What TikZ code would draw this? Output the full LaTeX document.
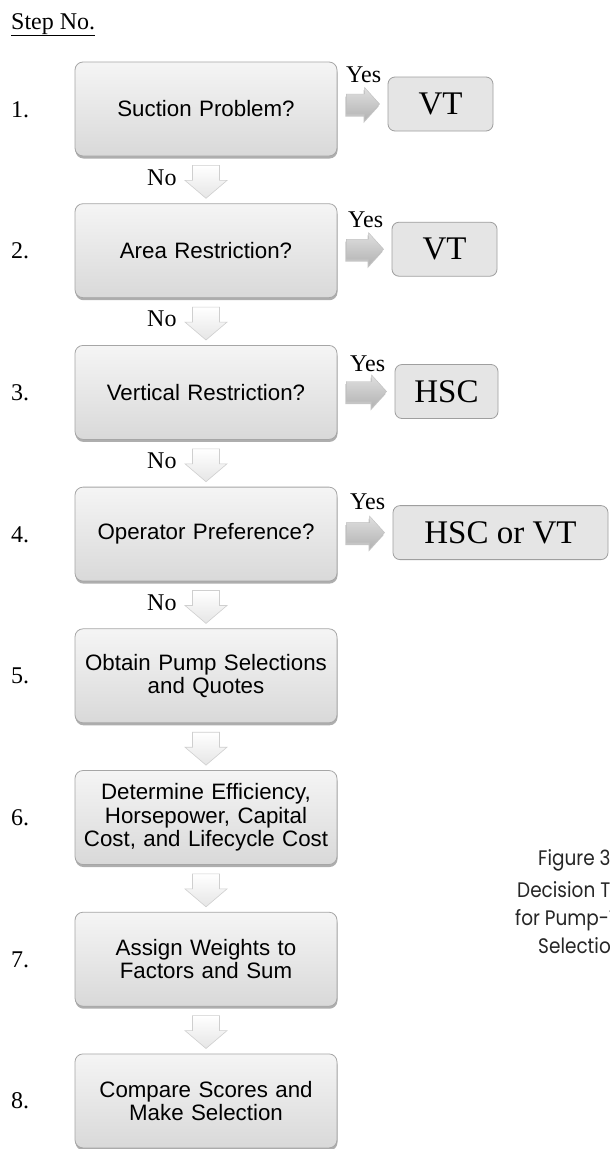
\documentclass[tikz,border=0pt]{standalone}
\usepackage{fontspec}
\setmainfont{Liberation Serif}
\newfontfamily\arialf{Liberation Sans}
\newfontfamily\capfont[FakeStretch=0.88]{Poppins}
\usetikzlibrary{shadows,calc}
\newcommand\dnarr[2]{\path[dnarrow] let \p1=(#1.south), \p2=(#2.north) in
  (\x1-13.5pt,\y1-9pt) -- (\x1+13.5pt,\y1-9pt) -- (\x1+13.5pt,\y1-24pt) -- (\x1+21pt,\y1-24pt)
  -- (\x1,\y2+5pt) -- (\x1-21pt,\y1-24pt) -- (\x1-13.5pt,\y1-24pt) -- cycle;}
\newcommand\rtarr[2]{\path[rtarrow] let \p1=(#1.east), \p2=(#2.west) in
  (\x1+9pt,\y2+10pt) -- (\x2-23pt,\y2+10pt) -- (\x2-23pt,\y2+16.5pt) -- (\x2-8pt,\y2)
  -- (\x2-23pt,\y2-16.5pt) -- (\x2-23pt,\y2-10pt) -- (\x1+9pt,\y2-10pt) -- cycle;}
\begin{document}
\begin{tikzpicture}[x=1pt,y=-1pt,
 mainbox/.style={draw=gray!70, line width=0.8pt, rounded corners=8pt, top color=gray!8, bottom color=gray!30,
   minimum width=262pt, minimum height=94pt, text width=250pt, align=center, inner sep=0pt,
   font=\arialf\fontsize{22.3}{23.5}\selectfont,
   drop shadow={shadow xshift=0.5pt, shadow yshift=-2.5pt, opacity=0.45, fill=black!70}},
 resbox/.style={draw=gray!75, line width=0.8pt, rounded corners=7pt, fill=gray!20, minimum height=54pt,
   inner sep=0pt, font=\fontsize{33}{36}\selectfont},
 stepnum/.style={anchor=base west, inner sep=0pt, font=\fontsize{24}{26}\selectfont},
 lbl/.style={anchor=base west, inner sep=0pt, font=\fontsize{24}{26}\selectfont},
 dnarrow/.style={draw=gray!38, line width=0.6pt, top color=white, bottom color=gray!20},
 rtarrow/.style={top color=gray!25, bottom color=gray!60, draw=gray!50, line width=0.4pt,
   drop shadow={shadow xshift=-1pt, shadow yshift=-2.5pt, opacity=0.45}},
 captxt/.style={anchor=base west, inner sep=0pt, font=\capfont\fontsize{21}{24}\selectfont, text=black!85}
]
\clip (0,0) rectangle (610,1149);
\fill[white] (0,0) rectangle (610,1149);

\node[lbl] (title) at (11,29) {\underline{Step No.}};

% main boxes
\node[mainbox] (b1) at (206,109)    {Suction Problem?};
\node[mainbox] (b2) at (206,250.7)  {Area Restriction?};
\node[mainbox] (b3) at (206,392.4)  {Vertical Restriction?};
\node[mainbox] (b4) at (206,534.1)  {Operator Preference?};
\node[mainbox] (b5) at (206,675.8)  {Obtain Pump Selections\\and Quotes};
\node[mainbox] (b6) at (206,817.5)  {Determine Efficiency,\\Horsepower, Capital\\Cost, and Lifecycle Cost};
\node[mainbox] (b7) at (206,959.2)  {Assign Weights to\\Factors and Sum};
\node[mainbox] (b8) at (206,1100.9) {Compare Scores and\\Make Selection};

% step numbers
\node[stepnum] (n1) at (11,117)    {1.};
\node[stepnum] (n2) at (11,258.7)  {2.};
\node[stepnum] (n3) at (11,400.4)  {3.};
\node[stepnum] (n4) at (11,542.1)  {4.};
\node[stepnum] (n5) at (11,683.8)  {5.};
\node[stepnum] (n6) at (11,825.5)  {6.};
\node[stepnum] (n7) at (11,967.2)  {7.};
\node[stepnum] (n8) at (11,1108.9) {8.};

% result boxes
\node[resbox, minimum width=105pt] (r1) at (440.5,104)   {VT};
\node[resbox, minimum width=105pt] (r2) at (444.5,249.2) {VT};
\node[resbox, minimum width=103pt] (r3) at (446.5,391.5) {HSC};
\node[resbox, minimum width=215pt] (r4) at (500.5,532.6) {HSC or VT};

% yes arrows and labels
\rtarr{b1}{r1} \rtarr{b2}{r2} \rtarr{b3}{r3} \rtarr{b4}{r4}
\node[lbl] (y1) at (346,82.5)  {Yes};
\node[lbl] (y2) at (348,227.7) {Yes};
\node[lbl] (y3) at (350,371)   {Yes};
\node[lbl] (y4) at (350,509.5) {Yes};

% down arrows
\dnarr{b1}{b2} \dnarr{b2}{b3} \dnarr{b3}{b4} \dnarr{b4}{b5}
\dnarr{b5}{b6} \dnarr{b6}{b7} \dnarr{b7}{b8}
\node[lbl] (no1) at (147,185)   {No};
\node[lbl] (no2) at (147,326.7) {No};
\node[lbl] (no3) at (147,468.4) {No};
\node[lbl] (no4) at (147,610.1) {No};

% caption (cut by the right edge)
\node[captxt] (c1) at (538,865) {Figure 3};
\node[captxt] (c2) at (517,897) {Decision Tree};
\node[captxt] (c3) at (515,925) {for Pump-Type};
\node[captxt] (c4) at (538,953) {Selection};
\end{tikzpicture}
\end{document}
